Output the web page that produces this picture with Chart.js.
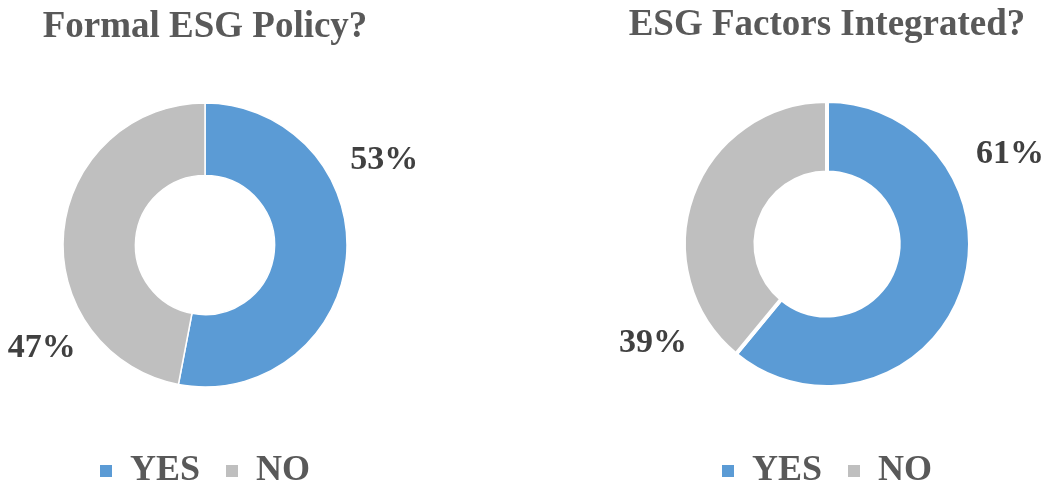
<!DOCTYPE html>
<html>
<head>
<meta charset="utf-8">
<script src="https://cdn.jsdelivr.net/npm/chart.js@4.4.1/dist/chart.umd.min.js"></script>
<style>
  body { margin: 0; background: #fff; width: 1044px; height: 485px; position: relative; overflow: hidden; }
  /* boxes are a little taller than the page so the legend sits near the bottom edge */
  .box { position: absolute; top: 0; height: 499px; }
</style>
</head>
<body>
<div class="box" style="left:0;width:430px"><canvas id="policy-chart"></canvas></div>
<div class="box" style="left:612px;width:430px"><canvas id="integrated-chart"></canvas></div>
<script>
// Chart data
const categories = ["YES", "NO"];
const policyValues = [53, 47];
const integratedValues = [61, 39];
const policyTitle = "Formal ESG Policy?";
const integratedTitle = "ESG Factors Integrated?";

const sliceColors = ["#5B9BD5", "#BFBFBF"];
const textGray = "#595959";
const serif = "'Liberation Serif', 'Times New Roman', serif";

// Draws the "53%" style labels outside the ring (Excel puts them up-right / down-left)
const outsideLabels = {
    id: "outsideLabels",
    afterDatasetsDraw(chart, args, opts) {
        const ctx = chart.ctx;
        const meta = chart.getDatasetMeta(0);
        const values = chart.data.datasets[0].data;
        ctx.save();
        ctx.font = "bold " + opts.size + "px " + serif;
        ctx.fillStyle = "#404040";
        ctx.textAlign = "center";
        ctx.textBaseline = "middle";
        meta.data.forEach(function(arc, i) {
            const a = opts.angles[i] * Math.PI / 180;
            const d = opts.distances[i];
            ctx.fillText(values[i] + "%", arc.x + Math.sin(a) * d, arc.y - Math.cos(a) * d);
        });
        ctx.restore();
    }
};

function makeChart(id, title, values, ring, titlePad, padRight, labelPos) {
    return new Chart(document.getElementById(id), {
        type: "doughnut",
        data: {
            labels: categories,
            datasets: [{
                data: values,
                backgroundColor: sliceColors,
                borderColor: "#ffffff",
                borderWidth: ring.border
            }]
        },
        options: {
            responsive: true,
            maintainAspectRatio: false,
            animation: false,
            events: [],
            radius: ring.outer,
            cutout: ring.cutout,
            layout: { padding: { right: padRight } },
            plugins: {
                title: {
                    display: true,
                    text: title,
                    color: textGray,
                    font: { family: serif, size: 37, weight: "bold" },
                    padding: titlePad
                },
                legend: {
                    position: "bottom",
                    labels: {
                        color: textGray,
                        font: { family: serif, size: 36, weight: "bold" },
                        boxWidth: 12,
                        boxHeight: 12,
                        padding: 26,
                        generateLabels: function(chart) {
                            return Chart.overrides.doughnut.plugins.legend.labels.generateLabels(chart)
                                .map(function(l) { return Object.assign(l, { lineWidth: 0, strokeStyle: l.fillStyle }); });
                        }
                    }
                },
                tooltip: { enabled: false },
                outsideLabels: labelPos
            }
        },
        plugins: [outsideLabels]
    });
}

makeChart("policy-chart", policyTitle, policyValues,
    { outer: 142, cutout: "49%", border: 1.5 },
    { top: 5, bottom: 13.6 }, 20,
    { size: 34, angles: [64.8, 237.7], distances: [198, 193] });

makeChart("integrated-chart", integratedTitle, integratedValues,
    { outer: 143, cutout: "50%", border: 4 },
    { top: 3, bottom: 13.6 }, 0,
    { size: 34, angles: [63.8, 240.4], distances: [204, 200] });
</script>
</body>
</html>
